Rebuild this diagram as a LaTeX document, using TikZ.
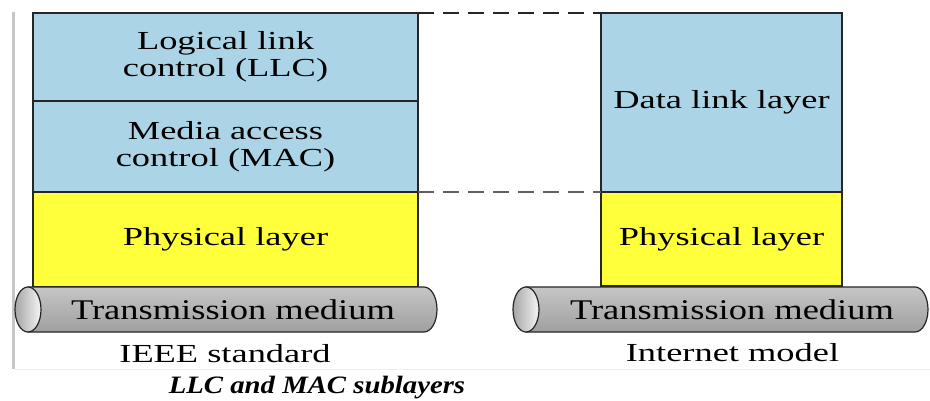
\documentclass[tikz,border=0pt]{standalone}
\usepackage{fontspec}
\setmainfont[FakeStretch=1.4]{Liberation Serif}
\newfontfamily\medfont[FakeStretch=1.28]{Liberation Serif}
\newfontfamily\capfont[FakeStretch=1.15]{Liberation Serif}
\usetikzlibrary{positioning}
\definecolor{llcblue}{RGB}{171,213,230}
\definecolor{phyyellow}{RGB}{255,255,60}
\tikzset{
    layer/.style={
           rectangle,
           draw=black!85,
           line width=1.4pt,
           outer sep=0pt,
           inner sep=0pt,
           align=center,
           font=\fontsize{26}{27}\selectfont,
           },
}

\begin{document}
\begin{tikzpicture}[
  x=1pt,y=-1pt,
  wide/.style={layer,minimum width=385pt},
  narrow/.style={layer,minimum width=241pt},
  sub/.style={fill=llcblue},
  phy/.style={fill=phyyellow},
  link/.style={dash pattern=on 16pt off 9pt,line width=1.3pt},
  tube/.style={draw=black!85,line width=1.2pt,top color=gray!45,middle color=gray!8,bottom color=gray!75},
  tubeend/.style={draw=black!85,line width=1.2pt,left color=gray!70,right color=gray!8},
  medium/.style={font=\medfont\fontsize{28.5}{30}\selectfont},
  model/.style={font=\fontsize{26}{27}\selectfont}]
\useasboundingbox (0,0) rectangle (930,401);
\fill[gray!45] (12,12) rectangle (15,369);
\draw[gray!12,line width=0.8pt] (15,369) -- (930,369);

% IEEE standard
\node[wide,sub,minimum height=88pt] (llc) at (225.5,57) {Logical link\\control (LLC)};
\node[wide,sub,minimum height=91pt,below=0pt of llc] (mac) {Media access\\control (MAC)};
\node[wide,phy,minimum height=95pt,below=0pt of mac] (physl) {Physical layer};

% Internet model
\node[narrow,sub,minimum height=179pt] (dll) at (721.5,102.5) {Data link layer};
\node[narrow,phy,minimum height=94pt,below=0pt of dll] (physr) {Physical layer};

\draw[link,black!85] (llc.north east) -- (dll.north west);
\draw[link,gray!75!black] (mac.south east) -- (dll.south west);

% the two cables
\draw[tube] (28,287) -- (424,287) arc[start angle=-90,end angle=90,x radius=13,y radius=22.5] -- (28,332) -- cycle;
\draw[tubeend] (28,309.5) ellipse[x radius=13,y radius=22.5];
\draw[tube] (526,287) -- (915,287) arc[start angle=-90,end angle=90,x radius=13,y radius=22.5] -- (526,332) -- cycle;
\draw[tubeend] (526,309.5) ellipse[x radius=13,y radius=22.5];

\node[medium] (medl) at (233,310) {Transmission medium};
\node[medium] (medr) at (732,310) {Transmission medium};

\node[model] (ieee) at (225,353.5) {IEEE standard};
\node[model] (inet) at (732.5,352.5) {Internet model};

\node[font=\capfont\bfseries\itshape\fontsize{25}{26}\selectfont] (caption) at (317,388) {LLC and MAC sublayers};
\end{tikzpicture}
\end{document}
